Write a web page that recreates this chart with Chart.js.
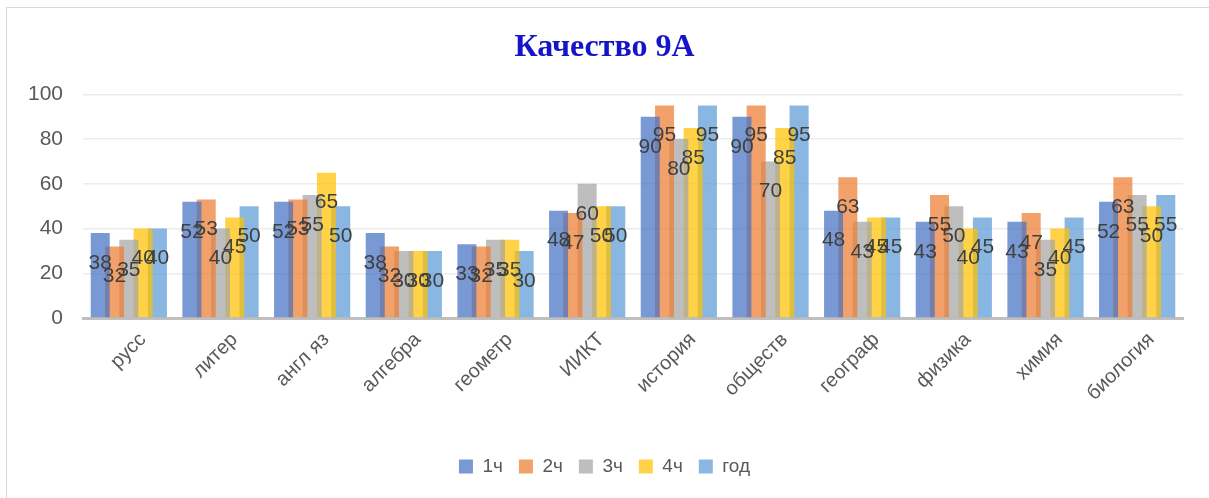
<!DOCTYPE html>
<html>
<head>
<meta charset="utf-8">
<script src="https://cdn.jsdelivr.net/npm/chart.js@4.4.0/dist/chart.umd.min.js"></script>
<style>
  body { margin: 0; background: #fff; }
  #wrap { position: relative; width: 1209px; height: 498px; }
  #frame { position: absolute; left: 6px; top: 7px; right: -5px; bottom: -5px; border: 1.5px solid #d9d9d9; }
  canvas { position: absolute; left: 0; top: 0; }
</style>
</head>
<body>
<div id="wrap">
  <div id="frame"></div>
  <canvas id="chart" width="1209" height="498"></canvas>
</div>
<script>
const subjects = ["русс", "литер", "англ яз", "алгебра", "геометр", "ИИКТ", "история", "обществ", "географ", "физика", "химия", "биология"];
const q1 = [38, 52, 52, 38, 33, 48, 90, 90, 48, 43, 43, 52];
const q2 = [32, 53, 53, 32, 32, 47, 95, 95, 63, 55, 47, 63];
const q3 = [35, 40, 55, 30, 35, 60, 80, 70, 43, 50, 35, 55];
const q4 = [40, 45, 65, 30, 35, 50, 85, 85, 45, 40, 40, 50];
const year = [40, 50, 50, 30, 30, 50, 95, 95, 45, 45, 45, 55];
const yTicks = [0, 20, 40, 60, 80, 100];

const font = "'Liberation Sans', Arial, sans-serif";

// подписи значений внутри столбцов, чуть ниже верхнего края
const valueLabels = {
  id: "valueLabels",
  afterDatasetsDraw(chart) {
    const ctx = chart.ctx;
    ctx.save();
    ctx.font = "21px " + font;
    ctx.fillStyle = "#404040";
    ctx.textAlign = "center";
    ctx.textBaseline = "middle";
    chart.data.datasets.forEach((ds, i) => {
      chart.getDatasetMeta(i).data.forEach((bar, j) => {
        ctx.fillText(ds.data[j], bar.x, bar.y + 30);
      });
    });
    ctx.restore();
  }
};

function ds(label, data, color) {
  return { label, data, backgroundColor: color, borderWidth: 0 };
}

new Chart(document.getElementById("chart"), {
  type: "bar",
  data: {
    labels: subjects,
    datasets: [
      ds("1ч", q1, "rgba(68,114,196,0.72)"),
      ds("2ч", q2, "rgba(237,125,49,0.72)"),
      ds("3ч", q3, "rgba(165,165,165,0.72)"),
      ds("4ч", q4, "rgba(255,192,0,0.72)"),
      ds("год", year, "rgba(91,155,213,0.72)")
    ]
  },
  options: {
    responsive: false,
    animation: false,
    layout: { padding: { left: 0, right: 0, top: 0, bottom: 12 } },
    datasets: { bar: { categoryPercentage: 0.78, barPercentage: 1.33 } },
    scales: {
      x: {
        grid: { display: false },
        border: { display: true, color: "#bfbfbf", width: 3 },
        ticks: { color: "#595959", font: { family: font, size: 20 }, minRotation: 45, maxRotation: 45, padding: 2, labelOffset: 14 },
        afterFit(s) { s.height = 123; }
      },
      y: {
        min: 0,
        max: 100,
        afterBuildTicks(s) { s.ticks = yTicks.map(v => ({ value: v })); },
        grid: { color: "#ececec", lineWidth: 1.5, drawTicks: false },
        border: { display: false },
        ticks: { color: "#595959", font: { family: font, size: 21 }, padding: 20 },
        afterFit(s) { s.width = 83; }
      },
      // пустая ось справа, только чтобы оставить поле
      yRight: {
        position: "right",
        grid: { display: false },
        border: { display: false },
        ticks: { display: false },
        afterFit(s) { s.width = 26; }
      }
    },
    plugins: {
      title: {
        display: true,
        text: "Качество 9А",
        color: "#1414c8",
        font: { family: "'Liberation Serif', 'Times New Roman', serif", size: 32, weight: "bold" },
        padding: { top: 29, bottom: 27 }
      },
      legend: {
        position: "bottom",
        labels: { color: "#595959", font: { family: font, size: 19 }, boxWidth: 14, boxHeight: 14, padding: 16 }
      },
      tooltip: { enabled: false }
    }
  },
  plugins: [valueLabels]
});
</script>
</body>
</html>
